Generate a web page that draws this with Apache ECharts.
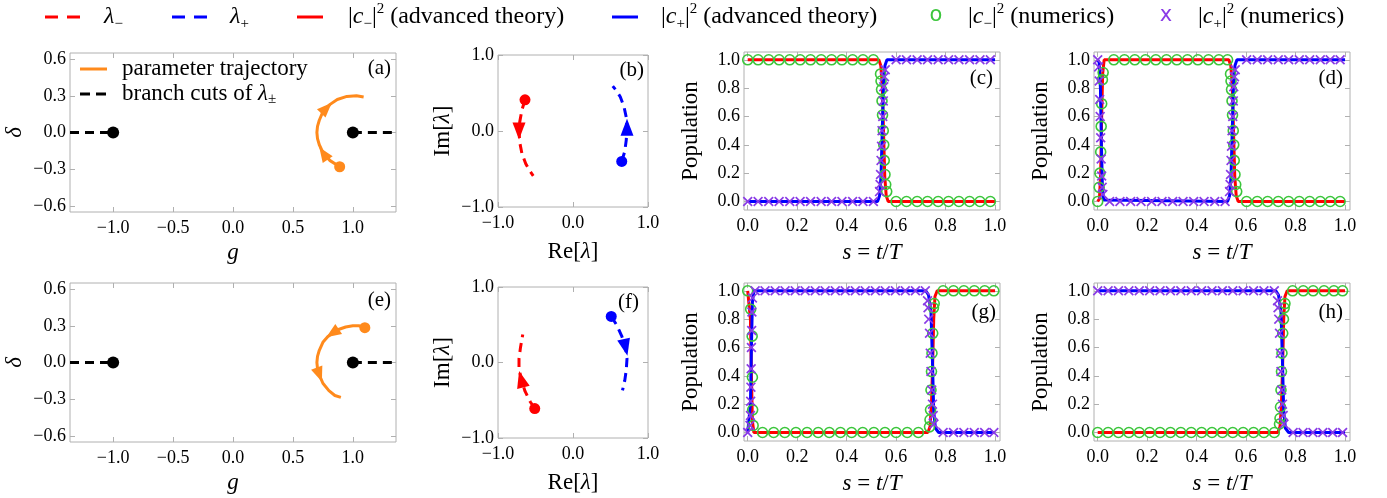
<!DOCTYPE html>
<html><head><meta charset="utf-8">
<script src="https://cdn.jsdelivr.net/npm/echarts@6.0.0/dist/echarts.min.js"></script>
<style>html,body{margin:0;padding:0;background:#fff}#c{width:1387px;height:498px}</style>
</head><body><div id="c"></div>
<script>
// ---------------- tick labels ----------------
const gTicks = [-1.0, -0.5, 0.0, 0.5, 1.0];
const deltaTicks = [-0.6, -0.3, 0.0, 0.3, 0.6];
const lamTicks = [-1.0, 0.0, 1.0];
const sTicks = [0.0, 0.2, 0.4, 0.6, 0.8, 1.0];
const popTicks = [0.0, 0.2, 0.4, 0.6, 0.8, 1.0];

// ---------------- (a),(e): parameter plane ----------------
const cutLeft = [[-1.36, 0], [-1.0, 0]];
const cutRight = [[1.0, 0], [1.36, 0]];
const branchPoints = [[-1.0, 0], [1.0, 0]];
const trajA = [[0.89,-0.28],[0.81,-0.23],[0.755,-0.172],[0.72,-0.1],[0.705,-0.05],[0.70,0.0],[0.705,0.05],[0.72,0.10],[0.75,0.17],[0.78,0.20],[0.81,0.23],[0.87,0.27],[0.95,0.295],[1.03,0.30],[1.09,0.29]];
const trajAArrowIdx = [2, 9];
const trajE = [[1.10,0.285],[1.05,0.30],[1.00,0.30],[0.94,0.29],[0.88,0.27],[0.83,0.24],[0.79,0.21],[0.75,0.165],[0.72,0.10],[0.705,0.05],[0.70,0.0],[0.705,-0.05],[0.72,-0.10],[0.75,-0.17],[0.80,-0.23],[0.85,-0.27],[0.90,-0.285]];
const trajEArrowIdx = [5, 12];

// ---------------- (b),(f): eigenvalues ----------------
const lamMinusB = [[-0.64,0.41],[-0.68,0.28],[-0.71,0.12],[-0.72,0.0],[-0.71,-0.15],[-0.68,-0.30],[-0.63,-0.43],[-0.58,-0.52],[-0.53,-0.59]];
const lamPlusB  = [[0.65,-0.40],[0.69,-0.27],[0.71,-0.12],[0.72,0.05],[0.71,0.18],[0.68,0.32],[0.63,0.45],[0.58,0.53],[0.53,0.59]];
const lamArrowIdxB = [3, 3];
const lamMinusF = [[-0.51,-0.61],[-0.57,-0.52],[-0.64,-0.38],[-0.69,-0.22],[-0.72,-0.08],[-0.72,0.05],[-0.70,0.20],[-0.67,0.37]];
const lamPlusF  = [[0.51,0.61],[0.58,0.50],[0.65,0.35],[0.70,0.20],[0.72,0.05],[0.71,-0.10],[0.69,-0.24],[0.66,-0.37]];
const lamArrowIdxF = [3, 3];

// ---------------- (c) ----------------
const cMinusTheoryC = [[0,1],[0.53,1],[0.538,0.96],[0.544,0.82],[0.549,0.5],[0.554,0.18],[0.56,0.04],[0.568,0],[1,0]];
const cPlusTheoryC  = [[0,0],[0.525,0],[0.533,0.04],[0.539,0.18],[0.544,0.5],[0.549,0.82],[0.555,0.96],[0.563,1],[1,1]];
const cMinusNumC = [[0,1],[0.042,1],[0.085,1],[0.127,1],[0.17,1],[0.212,1],[0.254,1],[0.297,1],[0.339,1],[0.381,1],[0.424,1],[0.466,1],[0.508,1],
  [0.537,0.9],[0.539,0.85],[0.541,0.79],[0.543,0.71],[0.545,0.61],[0.548,0.5],[0.55,0.4],[0.552,0.29],[0.555,0.19],[0.558,0.12],[0.562,0.07],
  [0.6,0],[0.642,0],[0.685,0],[0.727,0],[0.77,0],[0.812,0],[0.854,0],[0.897,0],[0.939,0],[0.981,0]];
const cPlusNumC = [[0,0],[0.042,0],[0.085,0],[0.127,0],[0.17,0],[0.212,0],[0.254,0],[0.297,0],[0.339,0],[0.381,0],[0.424,0],[0.466,0],[0.508,0],
  [0.533,0.07],[0.535,0.12],[0.537,0.19],[0.539,0.29],[0.541,0.39],[0.543,0.5],[0.546,0.6],[0.548,0.71],[0.55,0.81],[0.553,0.88],[0.556,0.93],
  [0.6,1],[0.642,1],[0.685,1],[0.727,1],[0.77,1],[0.812,1],[0.854,1],[0.897,1],[0.939,1],[0.981,1]];

// ---------------- (d) ----------------
const cMinusTheoryD = [[0,0],[0.007,0.02],[0.012,0.2],[0.016,0.6],[0.02,0.9],[0.026,1],[0.53,1],[0.538,0.96],[0.544,0.82],[0.549,0.5],[0.554,0.18],[0.56,0.04],[0.568,0],[1,0]];
const cPlusTheoryD  = [[0,1],[0.006,0.98],[0.011,0.8],[0.015,0.4],[0.019,0.1],[0.024,0.01],[0.028,0],[0.525,0],[0.533,0.04],[0.539,0.18],[0.544,0.5],[0.549,0.82],[0.555,0.96],[0.563,1],[1,1]];
const cMinusNumD = [[0,0],[0.006,0.1],[0.009,0.2],[0.012,0.35],[0.014,0.53],[0.016,0.69],[0.019,0.86],[0.022,0.91],
  [0.065,1],[0.108,1],[0.15,1],[0.193,1],[0.235,1],[0.278,1],[0.32,1],[0.363,1],[0.405,1],[0.448,1],[0.49,1],[0.525,1],
  [0.537,0.9],[0.539,0.85],[0.541,0.79],[0.543,0.71],[0.545,0.61],[0.548,0.5],[0.55,0.4],[0.552,0.29],[0.555,0.19],[0.558,0.12],[0.562,0.07],
  [0.602,0],[0.645,0],[0.687,0],[0.73,0],[0.772,0],[0.815,0],[0.857,0],[0.9,0],[0.94,0],[0.98,0]];
const cPlusNumD = [[0,1],[0.004,0.95],[0.006,0.85],[0.008,0.72],[0.01,0.6],[0.012,0.45],[0.014,0.3],[0.016,0.18],[0.018,0.1],[0.021,0.05],
  [0.048,0],[0.09,0],[0.133,0],[0.175,0],[0.218,0],[0.26,0],[0.303,0],[0.345,0],[0.388,0],[0.43,0],[0.473,0],[0.515,0],
  [0.533,0.07],[0.535,0.12],[0.537,0.19],[0.539,0.29],[0.541,0.39],[0.543,0.5],[0.546,0.6],[0.548,0.71],[0.55,0.81],[0.553,0.88],[0.556,0.93],
  [0.602,1],[0.645,1],[0.687,1],[0.73,1],[0.772,1],[0.815,1],[0.857,1],[0.9,1],[0.94,1],[0.98,1]];

// ---------------- (g) ----------------
const cMinusTheoryG = [[0,1],[0.007,0.99],[0.011,0.8],[0.015,0.4],[0.019,0.08],[0.025,0],[0.728,0],[0.737,0.04],[0.743,0.2],[0.748,0.5],[0.752,0.8],[0.757,0.96],[0.766,1],[1,1]];
const cPlusTheoryG  = [[0,0],[0.007,0.01],[0.011,0.2],[0.015,0.6],[0.019,0.92],[0.025,1],[0.72,1],[0.731,0.97],[0.741,0.85],[0.747,0.5],[0.752,0.15],[0.759,0.03],[0.772,0],[1,0]];
const cMinusNumG = [[0,1],[0.012,0.87],[0.018,0.68],[0.019,0.39],[0.02,0.16],[0.022,0.05],
  [0.06,0],[0.105,0],[0.15,0],[0.195,0],[0.24,0],[0.285,0],[0.33,0],[0.375,0],[0.42,0],[0.465,0],[0.51,0],[0.555,0],[0.6,0],[0.645,0],[0.69,0],
  [0.735,0.04],[0.737,0.09],[0.739,0.16],[0.741,0.3],[0.743,0.43],[0.745,0.56],[0.748,0.7],[0.751,0.88],[0.754,0.91],
  [0.79,1],[0.832,1],[0.874,1],[0.916,1],[0.958,1],[0.995,1]];
const cPlusNumG = [[0,0],[0.009,0.05],[0.011,0.12],[0.012,0.22],[0.013,0.32],[0.014,0.45],[0.015,0.6],[0.016,0.72],[0.017,0.85],[0.019,0.95],
  [0.03,1],[0.07,1],[0.111,1],[0.151,1],[0.192,1],[0.232,1],[0.273,1],[0.313,1],[0.354,1],[0.394,1],[0.435,1],[0.475,1],[0.516,1],[0.556,1],[0.597,1],[0.637,1],[0.678,1],[0.718,1],
  [0.727,0.93],[0.729,0.88],[0.732,0.8],[0.735,0.7],[0.738,0.56],[0.741,0.43],[0.744,0.3],[0.747,0.2],[0.75,0.12],[0.753,0.06],
  [0.79,0],[0.832,0],[0.874,0],[0.916,0],[0.958,0],[0.995,0]];

// ---------------- (h) ----------------
const cMinusTheoryH = [[0,0],[0.728,0],[0.737,0.04],[0.743,0.2],[0.748,0.5],[0.752,0.8],[0.757,0.96],[0.766,1],[1,1]];
const cPlusTheoryH  = [[0,1],[0.72,1],[0.731,0.97],[0.741,0.85],[0.747,0.5],[0.752,0.15],[0.759,0.03],[0.772,0],[1,0]];
const cMinusNumH = [[0,0],[0.042,0],[0.084,0],[0.126,0],[0.168,0],[0.21,0],[0.252,0],[0.294,0],[0.336,0],[0.378,0],[0.42,0],[0.462,0],[0.504,0],[0.546,0],[0.588,0],[0.63,0],[0.672,0],[0.714,0],
  [0.735,0.06],[0.737,0.1],[0.739,0.18],[0.741,0.3],[0.743,0.43],[0.745,0.56],[0.748,0.7],[0.751,0.8],[0.754,0.88],[0.757,0.91],
  [0.788,1],[0.831,1],[0.871,1],[0.915,1],[0.955,1],[0.99,1]];
const cPlusNumH = [[0,1],[0.042,1],[0.084,1],[0.126,1],[0.168,1],[0.21,1],[0.252,1],[0.294,1],[0.336,1],[0.378,1],[0.42,1],[0.462,1],[0.504,1],[0.546,1],[0.588,1],[0.63,1],[0.672,1],[0.714,1],
  [0.727,0.93],[0.729,0.88],[0.732,0.8],[0.735,0.7],[0.738,0.56],[0.741,0.43],[0.744,0.3],[0.747,0.2],[0.75,0.12],[0.753,0.06],
  [0.79,0],[0.83,0],[0.87,0],[0.91,0],[0.95,0],[0.99,0]];

// ---------------- styling / layout ----------------
const SERIF = '"Liberation Serif", "DejaVu Serif", serif';
const RED = '#ff0000', BLUE = '#0000ff', GREEN = '#3cc63c', PURPLE = '#8a3be6', ORANGE = '#ff8a1c', FRAME = '#b0b0b0';
const CROSS = 'path://M1.2,0L5,3.8L8.8,0L10,1.2L6.2,5L10,8.8L8.8,10L5,6.2L1.2,10L0,8.8L3.8,5L0,1.2Z';
const NF = 23;   // axis-name font size
const TF = 18;   // tick font size

const richBase = {
  i: {fontStyle: 'italic', fontFamily: SERIF, fontSize: NF},
  r: {fontFamily: SERIF, fontSize: NF}
};

const panels = [
  {left:70, top:53, width:326, height:159, x:[-1.36,1.36], y:[-0.65,0.65], xt:gTicks, yt:deltaTicks, xName:'{i|g}', yName:'{i|δ}', xGap:29, yGap:44},
  {left:498, top:55, width:150, height:152, x:[-1,1], y:[-1,1], xt:lamTicks, yt:lamTicks, xName:'{r|Re[}{i|λ}{r|]}', yName:'{r|Im[}{i|λ}{r|]}', xGap:33, yGap:44},
  {left:744, top:52, width:256, height:158, x:[-0.015,1.02], y:[-0.06,1.055], xt:sTicks, yt:popTicks, xName:'{i|s}{r| = }{i|t}{r|/}{i|T}', yName:'{r|Population}', xGap:31, yGap:42},
  {left:1094, top:52, width:256, height:158, x:[-0.015,1.02], y:[-0.06,1.055], xt:sTicks, yt:popTicks, xName:'{i|s}{r| = }{i|t}{r|/}{i|T}', yName:'{r|Population}', xGap:31, yGap:42},
  {left:70, top:283, width:326, height:159, x:[-1.36,1.36], y:[-0.65,0.65], xt:gTicks, yt:deltaTicks, xName:'{i|g}', yName:'{i|δ}', xGap:29, yGap:44},
  {left:498, top:287, width:150, height:151, x:[-1,1], y:[-1,1], xt:lamTicks, yt:lamTicks, xName:'{r|Re[}{i|λ}{r|]}', yName:'{r|Im[}{i|λ}{r|]}', xGap:33, yGap:44},
  {left:744, top:283, width:256, height:158, x:[-0.015,1.02], y:[-0.06,1.055], xt:sTicks, yt:popTicks, xName:'{i|s}{r| = }{i|t}{r|/}{i|T}', yName:'{r|Population}', xGap:31, yGap:42},
  {left:1094, top:283, width:256, height:158, x:[-0.015,1.02], y:[-0.06,1.055], xt:sTicks, yt:popTicks, xName:'{i|s}{r| = }{i|t}{r|/}{i|T}', yName:'{r|Population}', xGap:31, yGap:42}
];
const panelLabels = ['(a)','(b)','(c)','(d)','(e)','(f)','(g)','(h)'];
const labelPos = [[391,68],[644,70],[993,78],[1343,78],[391,300],[639,302],[996,312],[1343,312]];

function fmt(v){ return (v < -1e-9 ? '−' : '') + Math.abs(v).toFixed(1); }

const option = {animation:false, backgroundColor:'#fff', grid:[], xAxis:[], yAxis:[], series:[], graphic:[]};

panels.forEach((p, i) => {
  option.grid.push({left:p.left, top:p.top, width:p.width, height:p.height, show:true, borderColor:FRAME, borderWidth:1});
  const tick = vals => ({show:true, inside:true, length:5, customValues:vals, lineStyle:{color:FRAME, width:1}});
  const nameStyle = {fontFamily:SERIF, fontSize:NF, color:'#000', rich:richBase};
  const noLine = {show:false, onZero:false};
  option.xAxis.push({type:'value', gridIndex:i, min:p.x[0], max:p.x[1], position:'bottom',
    axisLine:noLine, splitLine:{show:false}, axisTick:tick(p.xt),
    axisLabel:{customValues:p.xt, formatter:fmt, fontFamily:SERIF, fontSize:TF, color:'#000', margin:7},
    name:p.xName, nameLocation:'middle', nameGap:p.xGap, nameTextStyle:nameStyle});
  option.xAxis.push({type:'value', gridIndex:i, min:p.x[0], max:p.x[1], position:'top',
    axisLine:noLine, splitLine:{show:false}, axisTick:tick(p.xt), axisLabel:{show:false}});
  option.yAxis.push({type:'value', gridIndex:i, min:p.y[0], max:p.y[1], position:'left',
    axisLine:noLine, splitLine:{show:false}, axisTick:tick(p.yt),
    axisLabel:{customValues:p.yt, formatter:fmt, fontFamily:SERIF, fontSize:TF, color:'#000', margin:4},
    name:p.yName, nameLocation:'middle', nameGap:p.yGap, nameRotate:90, nameTextStyle:nameStyle});
  option.yAxis.push({type:'value', gridIndex:i, min:p.y[0], max:p.y[1], position:'right',
    axisLine:noLine, splitLine:{show:false}, axisTick:tick(p.yt), axisLabel:{show:false}});
  option.graphic.push({type:'text', x:labelPos[i][0], y:labelPos[i][1], z:100,
    style:{text:panelLabels[i], fontFamily:SERIF, fontSize:21, fill:'#000', align:'right', verticalAlign:'middle'}});
});

function ax(i){ return {xAxisIndex:2*i, yAxisIndex:2*i}; }
function arrowData(traj, idxs, p){
  const kx = p.width/(p.x[1]-p.x[0]), ky = p.height/(p.y[1]-p.y[0]);
  return idxs.map(k => {
    const a = traj[Math.max(k-1,0)], b = traj[Math.min(k+1,traj.length-1)];
    const ang = Math.atan2((b[1]-a[1])*ky, (b[0]-a[0])*kx)*180/Math.PI;
    return {value:traj[k], symbolRotate:ang-90};
  });
}
function solid(col){ return {color:col, opacity:1}; }

function paramPanel(i, traj, arrowIdx){
  const p = panels[i];
  option.series.push(
    Object.assign({type:'line', name:'branch cuts of λ±', data:cutLeft, symbol:'none', lineStyle:{color:'#000', width:3, type:[9,6]}, z:2}, ax(i)),
    Object.assign({type:'line', name:'branch cuts of λ±', data:cutRight, symbol:'none', lineStyle:{color:'#000', width:3, type:[9,6]}, z:2}, ax(i)),
    Object.assign({type:'scatter', name:'branch points', data:branchPoints, symbol:'circle', symbolSize:12, itemStyle:solid('#000'), z:3}, ax(i)),
    Object.assign({type:'line', name:'parameter trajectory', data:traj, symbol:'none', lineStyle:{color:ORANGE, width:3}, z:4}, ax(i)),
    Object.assign({type:'scatter', name:'start', data:[traj[0]], symbol:'circle', symbolSize:11, itemStyle:solid(ORANGE), z:5}, ax(i)),
    Object.assign({type:'scatter', name:'direction', data:arrowData(traj, arrowIdx, p), symbol:'triangle', symbolSize:[12,15], itemStyle:solid(ORANGE), z:5}, ax(i))
  );
}
function eigenPanel(i, minus, plus, arrowIdx){
  const p = panels[i];
  [[minus, RED, 'λ−', arrowIdx[0]], [plus, BLUE, 'λ+', arrowIdx[1]]].forEach(([d, col, nm, ai]) => {
    option.series.push(
      Object.assign({type:'line', name:nm, data:d, symbol:'none', lineStyle:{color:col, width:3, type:[9,6]}, z:3}, ax(i)),
      Object.assign({type:'scatter', name:nm, data:[d[0]], symbol:'circle', symbolSize:11, itemStyle:solid(col), z:4}, ax(i)),
      Object.assign({type:'scatter', name:nm, data:arrowData(d, [ai], p), symbol:'triangle', symbolSize:[13,17], itemStyle:solid(col), z:4}, ax(i))
    );
  });
}
function popPanel(i, mT, pT, mN, pN){
  option.series.push(
    Object.assign({type:'line', name:'|c−|² (advanced theory)', data:mT, symbol:'none', lineStyle:{color:RED, width:3}, z:2}, ax(i)),
    Object.assign({type:'line', name:'|c+|² (advanced theory)', data:pT, symbol:'none', lineStyle:{color:BLUE, width:3}, z:3}, ax(i)),
    Object.assign({type:'scatter', name:'|c−|² (numerics)', data:mN, symbol:'circle', symbolSize:10, itemStyle:{color:'rgba(0,0,0,0)', borderColor:GREEN, borderWidth:1.6, opacity:1}, z:4}, ax(i)),
    Object.assign({type:'scatter', name:'|c+|² (numerics)', data:pN, symbol:CROSS, symbolSize:10, itemStyle:solid(PURPLE), z:5}, ax(i))
  );
}

paramPanel(0, trajA, trajAArrowIdx);
eigenPanel(1, lamMinusB, lamPlusB, lamArrowIdxB);
popPanel(2, cMinusTheoryC, cPlusTheoryC, cMinusNumC, cPlusNumC);
popPanel(3, cMinusTheoryD, cPlusTheoryD, cMinusNumD, cPlusNumD);
paramPanel(4, trajE, trajEArrowIdx);
eigenPanel(5, lamMinusF, lamPlusF, lamArrowIdxF);
popPanel(6, cMinusTheoryG, cPlusTheoryG, cMinusNumG, cPlusNumG);
popPanel(7, cMinusTheoryH, cPlusTheoryH, cMinusNumH, cPlusNumH);

// ---------------- legends (graphic) ----------------
const LF = 24;
const legRich = {
  i: {fontStyle:'italic', fontFamily:SERIF, fontSize:LF, lineHeight:30, verticalAlign:'middle'},
  r: {fontFamily:SERIF, fontSize:LF, lineHeight:30, verticalAlign:'middle'},
  sub: {fontFamily:SERIF, fontSize:15, lineHeight:30, verticalAlign:'bottom'},
  sup: {fontFamily:SERIF, fontSize:15, lineHeight:30, verticalAlign:'top'}
};
function gText(x, y, text, rich){
  return {type:'text', x:x, y:y, z:100, style:{text:text, rich:rich, fontFamily:SERIF, fontSize:LF, fill:'#000', align:'left', verticalAlign:'middle'}};
}
function gLine(x1, x2, y, col, dash){
  return {type:'line', z:100, shape:{x1:x1, y1:y, x2:x2, y2:y}, style:{stroke:col, lineWidth:3, lineDash:dash||null}};
}
const LY = 17;
option.graphic.push(
  gLine(45, 80, LY, RED, [13,9]),
  gText(104, LY, '{i|λ}{sub|−}', legRich),
  gLine(172, 207, LY, BLUE, [13,9]),
  gText(230, LY, '{i|λ}{sub|+}', legRich),
  gLine(297, 323, LY, RED),
  gText(348, LY, '{r||}{i|c}{sub|−}{r||}{sup|2}{r| (advanced theory)}', legRich),
  gLine(612, 638, LY, BLUE),
  gText(661, LY, '{r||}{i|c}{sub|+}{r||}{sup|2}{r| (advanced theory)}', legRich),
  {type:'text', x:936, y:LY-1, z:100, style:{text:'o', fontFamily:'"DejaVu Sans", sans-serif', fontSize:21, fill:GREEN, align:'center', verticalAlign:'middle'}},
  gText(968, LY, '{r||}{i|c}{sub|−}{r||}{sup|2}{r| (numerics)}', legRich),
  {type:'text', x:1166, y:LY-1, z:100, style:{text:'x', fontFamily:'"DejaVu Sans", sans-serif', fontSize:21, fill:PURPLE, align:'center', verticalAlign:'middle'}},
  gText(1198, LY, '{r||}{i|c}{sub|+}{r||}{sup|2}{r| (numerics)}', legRich)
);
// inner legend of (a)
const inRich = {
  r: {fontFamily:SERIF, fontSize:23, lineHeight:26, verticalAlign:'middle'},
  i: {fontFamily:SERIF, fontStyle:'italic', fontSize:23, lineHeight:26, verticalAlign:'middle'},
  sub: {fontFamily:SERIF, fontSize:15, lineHeight:26, verticalAlign:'bottom'}
};
option.graphic.push(
  gLine(80, 107, 69, ORANGE),
  gText(122, 69, '{r|parameter trajectory}', inRich),
  gLine(80, 107, 94, '#000', [10,6]),
  gText(122, 94, '{r|branch cuts of }{i|λ}{sub|±}', inRich)
);

const chart = echarts.init(document.getElementById('c'));
chart.setOption(option);
</script>
</body></html>
